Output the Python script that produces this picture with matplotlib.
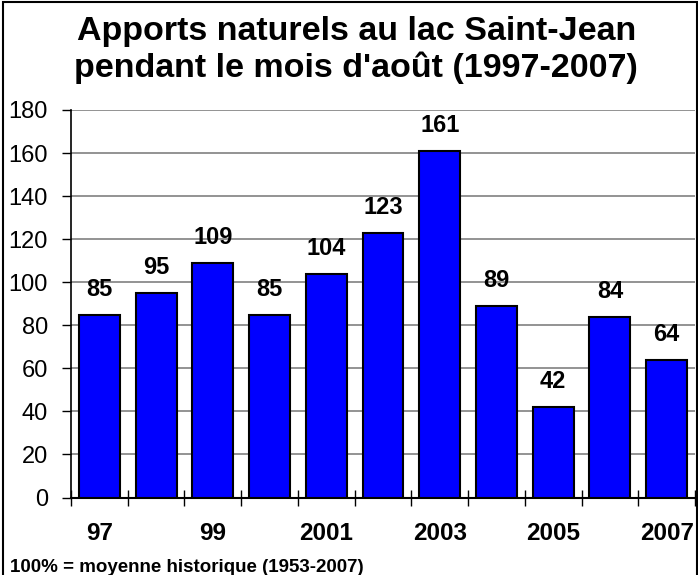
import matplotlib
matplotlib.use("Agg")
import matplotlib.pyplot as plt
from matplotlib.patches import Rectangle
import numpy as np

plt.rcParams['font.family'] = ['Liberation Sans', 'DejaVu Sans']

years = ['1997', '1998', '1999', '2000', '2001', '2002', '2003', '2004', '2005', '2006', '2007']
values = [85, 95, 109, 85, 104, 123, 161, 89, 42, 84, 64]
tick_labels = ['97', '', '99', '', '2001', '', '2003', '', '2005', '', '2007']
title_line1 = "Apports naturels au lac Saint-Jean"
title_line2 = "pendant le mois d'août (1997-2007)"
footer = "100% = moyenne historique (1953-2007)"

W, H = 698, 575
fig = plt.figure(figsize=(W / 100, H / 100), dpi=100)
ax = fig.add_axes([71 / W, 1 - 497.5 / H, (695 - 71) / W, (497.5 - 110) / H])

x = np.arange(len(values))
ax.bar(x, values, width=0.72, color='#0000FF', edgecolor='black', linewidth=1.5, zorder=3)
for xi, v in zip(x, values):
    ax.annotate(str(v), (xi, v), xytext=(0, 13.5), textcoords='offset points',
                ha='center', va='baseline', fontsize=17, fontweight='bold')

ax.set_xlim(-0.5, len(values) - 0.5)
ax.set_ylim(0, 180)
ax.set_yticks(np.arange(0, 181, 20))
ax.yaxis.grid(True, color='#808080', linewidth=1.2, zorder=0)
ax.set_axisbelow(True)
ax.tick_params(axis='y', labelsize=17, length=6.5, width=1, direction='out', pad=10)

ax.set_xticks(x)
ax.set_xticklabels(tick_labels, fontsize=17.5, fontweight='bold')
ax.tick_params(axis='x', length=0, pad=18)
ax.set_xticks(np.arange(-0.5, len(values), 1), minor=True)
ax.tick_params(axis='x', which='minor', direction='inout', length=11.5, width=1)

for s in ['top', 'right']:
    ax.spines[s].set_visible(False)
ax.spines['left'].set_linewidth(1.2)
ax.spines['bottom'].set_linewidth(1.5)

fig.text(356.5 / W, 1 - 40 / H, title_line1, ha='center', va='baseline',
         fontsize=24.5, fontweight='bold')
fig.text(356 / W, 1 - 77 / H, title_line2, ha='center', va='baseline',
         fontsize=24.5, fontweight='bold')
fig.text(10 / W, 1 - 572 / H, footer, ha='left', va='baseline', fontsize=13.5,
         fontweight='bold')

fig.patches.append(Rectangle((3 / W, -0.02), (697 - 3) / W, 1.02 - 2 / H,
                             transform=fig.transFigure, fill=False,
                             edgecolor='black', linewidth=1.5))

fig.savefig('out.png', dpi=100)
